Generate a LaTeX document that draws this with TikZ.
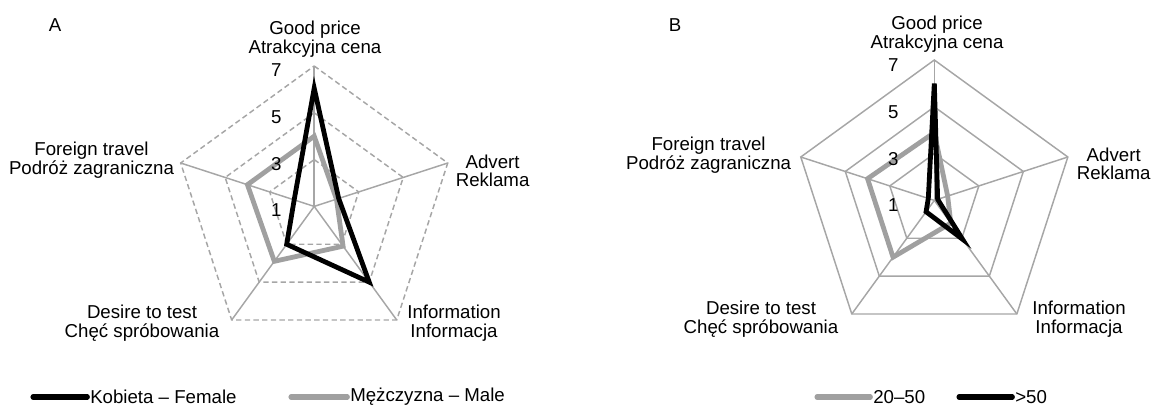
\documentclass[tikz,border=0pt]{standalone}
\usepackage{fontspec}
\setmainfont{Liberation Sans}
\usetikzlibrary{positioning}
\definecolor{gridgray}{RGB}{166,166,166}
\definecolor{datagray}{RGB}{160,160,160}
\newcommand{\unitr}{23.4}

\tikzset{
  lbl/.style={align=center, inner sep=0pt, font=\fontsize{14}{13.8}\selectfont},
  num/.style={inner sep=0pt, font=\fontsize{14}{14}\selectfont},
  gridA/.style={gridgray, line width=1.1pt, dash pattern=on 4pt off 2.5pt},
  gridB/.style={gridgray, line width=1.1pt},
  spoke/.style={gridgray, line width=1.1pt},
  blackline/.style={black, line width=3.6pt},
  grayline/.style={datagray, line width=3.6pt},
  legline/.style={line width=3.8pt, line cap=round}
}

\begin{document}
\begin{tikzpicture}[x=0.75pt, y=0.75pt]
  \useasboundingbox (0,0) rectangle (1151,408);

  % chart A
  \begin{scope}[shift={(314.2,201.6)}]
    \foreach \a in {90,18,-54,-126,162}
      \draw[spoke] (0,0) -- (\a:{6*\unitr});
    \foreach \v in {3,5,7}
      \draw[gridA] (90:{(\v-1)*\unitr}) -- (18:{(\v-1)*\unitr}) -- (-54:{(\v-1)*\unitr})
        -- (-126:{(\v-1)*\unitr}) -- (162:{(\v-1)*\unitr}) -- cycle;
    \draw[grayline] (90:{(4.0-1)*\unitr}) -- (18:{(2.0-1)*\unitr}) -- (-54:{(3.1-1)*\unitr})
      -- (-126:{(3.9-1)*\unitr}) -- (162:{(4.0-1)*\unitr}) -- cycle;
    \draw[blackline] (90:{(6.05-1)*\unitr}) -- (18:{(2.1-1)*\unitr}) -- (-54:{(5.0-1)*\unitr})
      -- (-126:{(3.0-1)*\unitr}) -- (162:{(1.9-1)*\unitr}) -- cycle;
    \foreach \v in {1,3,5,7}
      \node[num] (numA\v) at (-38,{(\v-1)*\unitr-4}) {\v};
  \end{scope}

  % chart B
  \begin{scope}[shift={(934.3,207.6)}]
    \foreach \a in {90,18,-54,-126,162}
      \draw[spoke] (0,0) -- (\a:{6*\unitr});
    \foreach \v in {3,5,7}
      \draw[gridB] (90:{(\v-1)*\unitr}) -- (18:{(\v-1)*\unitr}) -- (-54:{(\v-1)*\unitr})
        -- (-126:{(\v-1)*\unitr}) -- (162:{(\v-1)*\unitr}) -- cycle;
    \draw[grayline] (90:{(3.9-1)*\unitr}) -- (18:{(1.6-1)*\unitr}) -- (-54:{(2.2-1)*\unitr})
      -- (-126:{(4.0-1)*\unitr}) -- (162:{(4.0-1)*\unitr}) -- cycle;
    \draw[blackline] (90:{(6.0-1)*\unitr}) -- (18:{(1.15-1)*\unitr}) -- (-54:{(3.05-1)*\unitr})
      -- (-126:{(1.6-1)*\unitr}) -- (162:{(1.27-1)*\unitr}) -- cycle;
    \foreach \v in {1,3,5,7}
      \node[num] (numB\v) at (-41,{(\v-1)*\unitr-5}) {\v};
  \end{scope}

  % axis labels
  \node[lbl] (tagA) at (55,383) {A};
  \node[lbl] (priceA) at (315,369) {Good price\\Atrakcyjna cena};
  \node[lbl] (advA) at (492.6,237) {Advert\\Reklama};
  \node[lbl] (infoA) at (454,85) {Information\\Informacja};
  \node[lbl] (testA) at (142,85) {Desire to test\\Chęć spróbowania};
  \node[lbl] (travA) at (91.5,248) {Foreign travel\\Podróż zagraniczna};

  \node[lbl] (tagB) at (675,383) {B};
  \node[lbl] (priceB) at (937,374) {Good price\\Atrakcyjna cena};
  \node[lbl] (advB) at (1113.7,244) {Advert\\Reklama};
  \node[lbl] (infoB) at (1079,89) {Information\\Informacja};
  \node[lbl] (testB) at (761,89) {Desire to test\\Chęć spróbowania};
  \node[lbl] (travB) at (708.6,252.7) {Foreign travel\\Podróż zagraniczna};

  % legends
  \node[lbl, anchor=west] (female) at (90,11) {Kobieta – Female};
  \node[lbl, anchor=west] (male) at (350,11) {Mężczyzna – Male};
  \coordinate (femstart) at (33,11);
  \coordinate (malestart) at (291,11);
  \draw[legline, black] (femstart) -- ([xshift=-2pt]female.west);
  \draw[legline, datagray] (malestart) -- ([xshift=-2pt]male.west);

  \node[lbl, anchor=west] (young) at (873,11) {20–50};
  \node[lbl, anchor=west] (old) at (1015,11) {>50};
  \coordinate (youngstart) at (817,11);
  \coordinate (oldstart) at (959,11);
  \draw[legline, datagray] (youngstart) -- ([xshift=-2pt]young.west);
  \draw[legline, black] (oldstart) -- ([xshift=-2pt]old.west);
\end{tikzpicture}
\end{document}
